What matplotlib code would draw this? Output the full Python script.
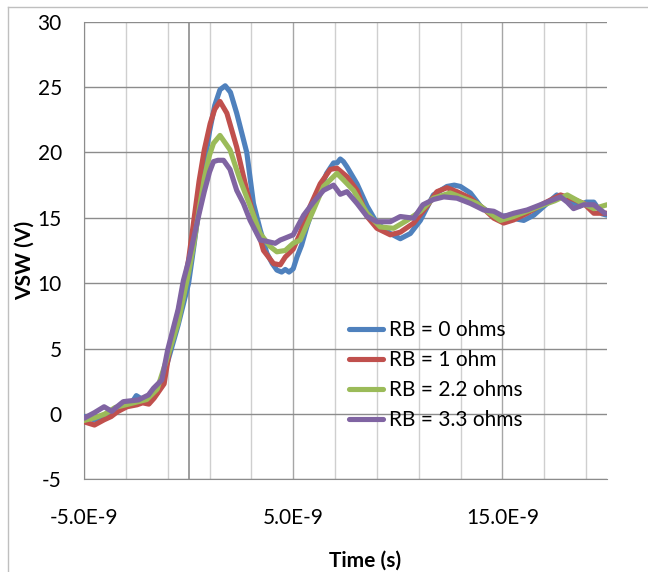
import matplotlib.pyplot as plt
from matplotlib.lines import Line2D
from matplotlib.ticker import MultipleLocator

plt.rcParams['font.family'] = ['Lato', 'DejaVu Sans']
plt.rcParams['axes.unicode_minus'] = False

# time in ns, voltage in V
t_rb0 = [-5, -4.5, -4, -3.5, -3, -2.7, -2.5, -2.3, -2, -1.5, -1, -0.5, 0, 0.25, 0.5, 0.75,
         1.0, 1.25, 1.5, 1.75, 2.0, 2.3, 2.78, 3.1, 3.42, 3.74, 4.0, 4.22, 4.45, 4.62, 4.8,
         5.0, 5.18, 5.4, 5.65, 6.13, 6.6, 6.93, 7.1, 7.25, 7.4, 7.57, 8.05, 8.53, 9.0, 9.64,
         10.12, 10.6, 11.08, 11.7, 12.35, 12.7, 12.99, 13.47, 13.95, 14.43, 14.9, 15.38,
         15.7, 16.02, 16.5, 17.14, 17.6, 18.1, 18.7, 19.0, 19.37, 19.77, 20.0]
v_rb0 = [-0.2, -0.45, -0.15, 0.25, 0.75, 0.9, 1.4, 1.2, 1.05, 1.6, 4.0, 6.8, 10.0, 12.8, 15.8, 19.0,
         21.6, 23.6, 24.8, 25.1, 24.6, 23.0, 20.0, 16.1, 14.1, 12.3, 11.5, 11.0, 10.85, 11.05, 10.85,
         11.1, 12.0, 12.9, 14.3, 16.6, 18.4, 19.2, 19.2, 19.5, 19.3, 18.9, 17.6, 15.9, 14.6, 13.8,
         13.4, 13.8, 14.8, 16.75, 17.4, 17.5, 17.4, 16.9, 15.9, 15.3, 15.1, 15.2,
         14.9, 14.8, 15.2, 16.1, 16.75, 16.4, 15.9, 16.2, 16.2, 15.3, 15.2]

t_rb1 = [-5, -4.5, -4.04, -3.7, -3.4, -2.94, -2.46, -2.2, -1.9, -1.65, -1.17, -0.9, -0.5, -0.2, 0,
         0.25, 0.5, 0.75, 1.03, 1.25, 1.5, 1.83, 2.3, 2.78, 3.26, 3.58, 4.06, 4.38, 4.62, 5.0,
         5.33, 5.81, 6.29, 6.77, 7.09, 7.57, 8.05, 8.53, 9.0, 9.64, 10.12, 10.76, 11.4, 11.87,
         12.35, 12.83, 13.47, 14.1, 14.59, 15.06, 15.54, 16.18, 16.98, 17.78, 18.25, 18.89,
         19.37, 20.0]
v_rb1 = [-0.6, -0.85, -0.45, -0.2, 0.17, 0.55, 0.7, 0.85, 0.75, 1.2, 2.3, 5.0, 7.8, 10.0, 11.8,
         14.8, 17.8, 20.2, 22.2, 23.3, 23.9, 23.0, 20.4, 17.1, 14.3, 12.5, 11.5, 11.4, 12.0, 12.6,
         13.8, 15.9, 17.6, 18.7, 18.8, 18.15, 17.1, 15.1, 14.2, 13.7, 13.9, 14.6, 15.9, 17.0,
         17.3, 17.0, 16.5, 15.7, 14.97, 14.6, 14.84, 15.35, 16.1, 16.75, 16.5, 16.1,
         15.35, 15.35]

t_rb22 = [-5, -4.5, -4, -3.5, -3, -2.5, -2, -1.5, -1, -0.5, 0, 0.25, 0.5, 0.75, 1.0, 1.19, 1.5,
          1.98, 2.46, 2.94, 3.42, 3.9, 4.22, 4.62, 5.0, 5.33, 5.97, 6.45, 7.09, 7.4, 7.88, 8.53,
          9.16, 9.8, 10.44, 11.08, 11.7, 12.5, 13.15, 13.79, 14.27, 14.9, 15.54, 16.18, 16.98,
          17.5, 18.1, 18.73, 19.37, 20.0]
v_rb22 = [-0.5, -0.3, 0.0, 0.5, 0.7, 0.9, 1.1, 1.9, 4.4, 7.0, 10.8, 13.0, 15.6, 18.0, 19.8, 20.7, 21.3,
          20.2, 17.9, 15.9, 13.8, 12.8, 12.4, 12.5, 13.05, 13.3, 15.6, 17.4, 18.4, 17.9, 17.1, 15.35,
          14.3, 14.2, 14.8, 15.5, 16.5, 16.9, 16.5, 16.1, 15.5, 14.8, 15.1, 15.5, 16.0,
          16.3, 16.75, 16.2, 15.7, 16.0]

t_rb33 = [-5, -4.5, -4.04, -3.67, -3.5, -3.12, -2.4, -1.92, -1.68, -1.28, -1.0, -0.5, -0.25, 0,
          0.25, 0.5, 0.75, 1.0, 1.19, 1.4, 1.67, 1.98, 2.3, 2.62, 2.94, 3.42, 3.74, 4.14, 4.38,
          4.54, 5.0, 5.5, 5.97, 6.45, 6.93, 7.25, 7.57, 8.05, 8.53, 9.0, 9.64, 10.12, 10.76,
          11.2, 11.7, 12.2, 12.83, 13.47, 14.1, 14.59, 15.06, 15.54, 16.18, 16.82, 17.78, 18.1,
          18.4, 18.89, 19.37, 19.9]
v_rb33 = [-0.33, 0.1, 0.55, 0.2, 0.45, 0.94, 1.07, 1.45, 1.96, 2.6, 4.9, 8.0, 10.2, 11.7,
          13.5, 15.3, 17.0, 18.5, 19.3, 19.4, 19.4, 18.7, 17.1, 16.1, 14.8, 13.3, 13.2, 13.05, 13.3,
          13.4, 13.7, 15.2, 16.2, 17.1, 17.5, 16.8, 17.0, 16.1, 15.1, 14.7, 14.7, 15.1, 14.97,
          16.0, 16.4, 16.6, 16.5, 16.1, 15.6, 15.5, 15.1, 15.35, 15.6, 16.0, 16.6, 16.2,
          15.7, 16.0, 16.0, 15.35]

labels = ["RB = 0 ohms", "RB = 1 ohm", "RB = 2.2 ohms", "RB = 3.3 ohms"]
colors = ["#4F81BD", "#C0504D", "#9BBB59", "#8064A2"]
xtick_pos = [-5, 5, 15]
xtick_lbl = ["-5.0E-9", "5.0E-9", "15.0E-9"]
yticks = [-5, 0, 5, 10, 15, 20, 25, 30]

W, H = 648, 572
fig = plt.figure(figsize=(W / 100, H / 100), dpi=100)
ax = fig.add_axes([84 / W, 1 - 479.3 / H, (607 - 84) / W, (479.3 - 21.7) / H])

# chart area border (cut off at right and bottom)
fig.add_artist(Line2D([8 / W, 8 / W], [0, 1 - 7 / H], color="#bfbfbf", lw=1))
fig.add_artist(Line2D([8 / W, 1], [1 - 7 / H, 1 - 7 / H], color="#bfbfbf", lw=1))

series = [(t_rb0, v_rb0), (t_rb1, v_rb1), (t_rb22, v_rb22), (t_rb33, v_rb33)]
for (t, v), lab, c in zip(series, labels, colors):
    ax.plot(t, v, color=c, lw=3.7, label=lab, solid_capstyle="round",
            solid_joinstyle="round", zorder=3)

ax.set_xlim(-5, 20)
ax.set_ylim(-5, 30)
ax.set_xticks(xtick_pos)
ax.set_xticklabels(xtick_lbl)
ax.xaxis.set_minor_locator(MultipleLocator(2, offset=1))
ax.set_yticks(yticks)
ax.tick_params(axis="both", which="both", length=0, labelsize=15, colors="black")
ax.tick_params(axis="y", pad=16)
ax.tick_params(axis="x", pad=21)

ax.grid(axis="y", which="major", color="#8c8c8c", lw=1, zorder=1)
ax.grid(axis="x", which="major", color="#a6a6a6", lw=1, zorder=1)
ax.grid(axis="x", which="minor", color="#cfcfcf", lw=1, zorder=1)
ax.axvline(0, color="#8c8c8c", lw=1.2, zorder=1)
ax.set_axisbelow(True)

for s in ["top", "right"]:
    ax.spines[s].set_visible(False)
for s in ["left", "bottom"]:
    ax.spines[s].set_color("#8c8c8c")

fig.text(365 / W, 1 - 566.5 / H, "Time (s)", fontsize=15, fontweight="bold",
         ha="center", va="baseline")
fig.text(25 / W, 1 - 260 / H, "VSW (V)", fontsize=15, fontweight="bold",
         rotation=90, ha="center", va="center")

ax.legend(loc="upper left", bbox_to_anchor=(349 / W, 1 - 320 / H),
          bbox_transform=fig.transFigure, frameon=False, fontsize=15,
          handlelength=1.65, handletextpad=0.25, labelspacing=0.48,
          borderpad=0, borderaxespad=0)

fig.savefig("out.png", dpi=100)
